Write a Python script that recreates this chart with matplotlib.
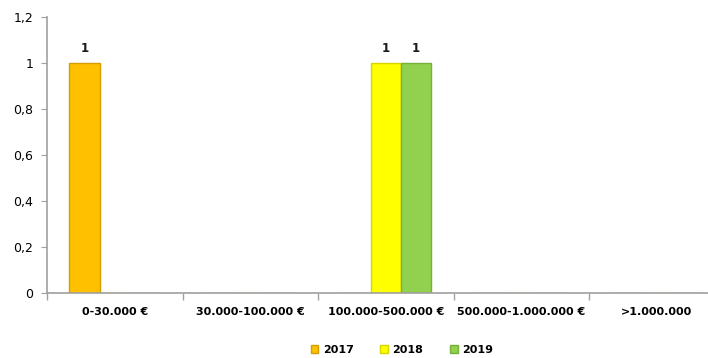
import numpy as np
import matplotlib
matplotlib.use("Agg")
import matplotlib.pyplot as plt
from matplotlib.ticker import FuncFormatter

categories = ["0-30.000 €", "30.000-100.000 €", "100.000-500.000 €",
              "500.000-1.000.000 €", ">1.000.000"]
years = ["2017", "2018", "2019"]
values_2017 = [1, 0, 0, 0, 0]
values_2018 = [0, 0, 1, 0, 0]
values_2019 = [0, 0, 1, 0, 0]

colors = ["#FFC000", "#FFFF00", "#92D050"]
edges = ["#D39E00", "#D6D600", "#77B03A"]

plt.rcParams["font.family"] = ["DejaVu Sans"]

fig = plt.figure(figsize=(7.08, 3.58), dpi=100)
ax = fig.add_axes([47 / 708, 65 / 358, 1 - 47 / 708, (293 - 17) / 358])

x = np.arange(len(categories))
w = 0.225
series = [values_2017, values_2018, values_2019]
for i, (vals, year) in enumerate(zip(series, years)):
    pos = x + (i - 1) * w
    bars = ax.bar(pos, vals, width=w, color=colors[i], edgecolor=edges[i],
                  linewidth=1.0, label=year)
    for b, v in zip(bars, vals):
        if v > 0:
            ax.text(b.get_x() + b.get_width() / 2, v + 0.035, f"{v}",
                    ha="center", va="bottom", fontsize=8.5, fontweight="bold",
                    color="#1a1a1a")

ax.set_yticks(np.arange(0, 1.21, 0.2))
ax.yaxis.set_major_formatter(FuncFormatter(
    lambda v, _: ("%g" % round(v, 1)).replace(".", ",")))
ax.set_xticks(x)
ax.set_xticklabels(categories, fontsize=8, fontweight="bold")
ax.set_xticks(np.arange(-0.5, len(categories), 1), minor=True)
ax.tick_params(axis="x", which="major", length=0, pad=10)
ax.tick_params(axis="x", which="minor", length=5, color="#A0A0A0", width=1)
ax.tick_params(axis="y", length=4, color="#A0A0A0", labelsize=9, pad=6)
ax.set_xlim(-0.5, (708 - 47) / 135.5 - 0.5)
ax.set_ylim(0, 1.2)

for s in ["top", "right"]:
    ax.spines[s].set_visible(False)
for s in ["left", "bottom"]:
    ax.spines[s].set_color("#A0A0A0")
    ax.spines[s].set_linewidth(1.2)

handles, labels = ax.get_legend_handles_labels()
leg = fig.legend(handles, labels, loc="center", bbox_to_anchor=(402 / 708, 1 - 350 / 358),
                 ncol=3, frameon=False, fontsize=8,
                 handlelength=0.7, handleheight=0.7, columnspacing=2.4,
                 handletextpad=0.4)
for t in leg.get_texts():
    t.set_fontweight("bold")

fig.savefig("out.png", dpi=100)
